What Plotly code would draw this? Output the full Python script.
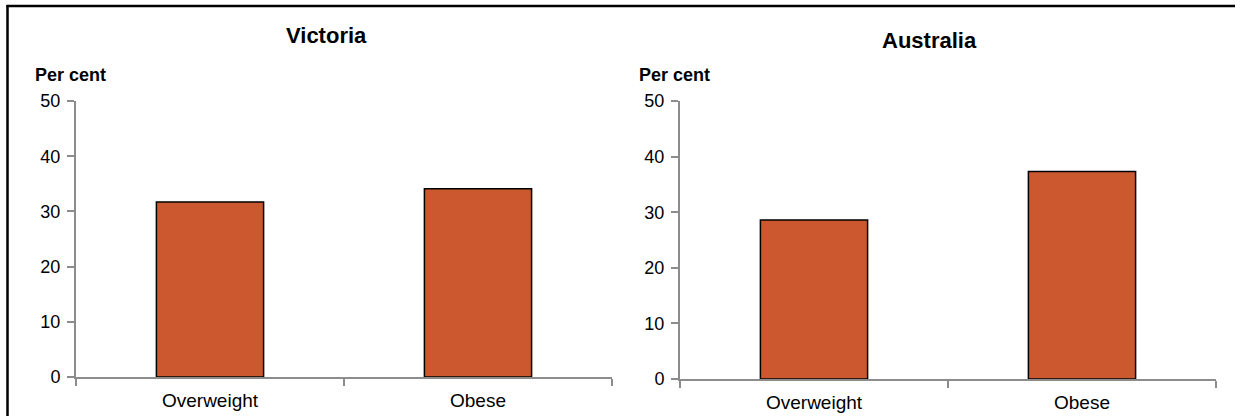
import plotly.graph_objects as go

categories = ["Overweight", "Obese"]
victoria = [31.7, 34.1]
australia = [28.6, 37.3]
panel_titles = ["Victoria", "Australia"]
y_ticks = [0, 10, 20, 30, 40, 50]

W, H = 1245, 416
BAR = "#CB582F"
AX = "#8C8C8C"
FONT = "Liberation Sans, Arial, sans-serif"

def px(x):
    return x / W

def py(y):
    return 1 - y / H

fig = go.Figure()
fig.add_trace(go.Bar(x=categories, y=victoria, xaxis="x", yaxis="y",
                     marker=dict(color=BAR, line=dict(color="black", width=1.5)),
                     showlegend=False))
fig.add_trace(go.Bar(x=categories, y=australia, xaxis="x2", yaxis="y2",
                     marker=dict(color=BAR, line=dict(color="black", width=1.5)),
                     showlegend=False))

xcommon = dict(type="category", range=[-0.5, 1.5], showline=True, linecolor=AX, linewidth=2,
               ticks="outside", tickson="boundaries", ticklen=7, tickwidth=2, tickcolor=AX,
               showgrid=False, automargin=False, ticklabelstandoff=5,
               tickfont=dict(size=19, color="black", family=FONT), fixedrange=True)
ycommon = dict(range=[0, 50], tickvals=y_ticks, showline=True, linecolor=AX, linewidth=2,
               ticks="outside", ticklen=7, tickwidth=2, tickcolor=AX, showgrid=False,
               zeroline=False, automargin=False, ticklabelstandoff=3,
               tickfont=dict(size=18, color="black", family=FONT), fixedrange=True)

fig.update_layout(
    width=W, height=H,
    margin=dict(l=0, r=0, t=0, b=0),
    paper_bgcolor="white", plot_bgcolor="white",
    bargap=0.6,
    font=dict(family=FONT, color="black"),
    xaxis=dict(domain=[px(76), px(612)], anchor="y", **xcommon),
    yaxis=dict(domain=[py(377), py(101)], anchor="x", **ycommon),
    xaxis2=dict(domain=[px(680), px(1216)], anchor="y2", **xcommon),
    yaxis2=dict(domain=[py(379), py(101)], anchor="x2", **ycommon),
    annotations=[
        dict(text="<b>" + panel_titles[0] + "</b>", x=px(326), y=py(35), xref="paper", yref="paper",
             showarrow=False, font=dict(size=22, family=FONT), xanchor="center", yanchor="middle"),
        dict(text="<b>" + panel_titles[1] + "</b>", x=px(929), y=py(41), xref="paper", yref="paper",
             showarrow=False, font=dict(size=22, family=FONT), xanchor="center", yanchor="middle"),
        dict(text="<b>Per cent</b>", x=px(33), y=py(75), xref="paper", yref="paper",
             showarrow=False, font=dict(size=18, family=FONT), xanchor="left", yanchor="middle"),
        dict(text="<b>Per cent</b>", x=px(637), y=py(75), xref="paper", yref="paper",
             showarrow=False, font=dict(size=18, family=FONT), xanchor="left", yanchor="middle"),
    ],
    shapes=[
        dict(type="line", xref="paper", yref="paper", x0=px(6.5), x1=px(1235), y0=py(6), y1=py(6),
             line=dict(color="black", width=2.5)),
        dict(type="line", xref="paper", yref="paper", x0=px(7.5), x1=px(7.5), y0=py(5), y1=py(420),
             line=dict(color="black", width=2.5)),
    ],
)

fig.write_html("out.html", config={"displayModeBar": False},
               post_script="document.body.style.margin='0';")
